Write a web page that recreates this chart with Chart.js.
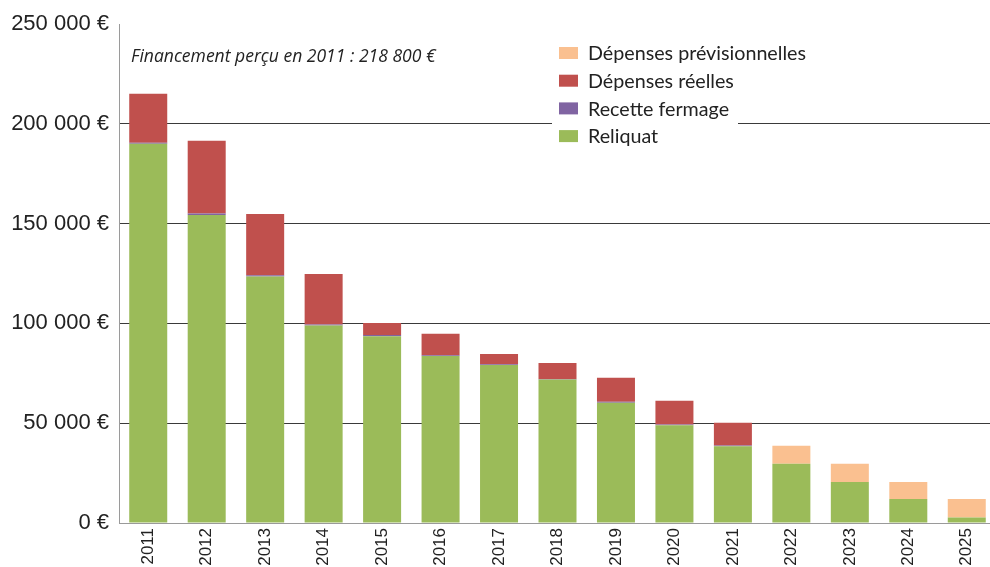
<!DOCTYPE html>
<html><head><meta charset="utf-8">
<script src="https://cdn.jsdelivr.net/npm/chart.js@4/dist/chart.umd.min.js"></script>
<style>
html,body{margin:0;padding:0;background:#fff;overflow:hidden;width:990px;height:567px}
#wrap{position:relative;width:996px;height:567px}
</style></head>
<body><div id="wrap"><canvas id="c" width="996" height="567"></canvas></div>
<script>
const years = ['2011','2012','2013','2014','2015','2016','2017','2018','2019','2020','2021','2022','2023','2024','2025'];
const reliquat = [190000,154300,123500,99000,93500,83700,79200,71900,60300,49000,38400,29700,20500,12000,2800];
const recetteFermage = [500,800,600,400,700,300,300,300,400,300,400,0,0,0,0];
const depensesReelles = [24500,36400,30700,25400,6000,10800,5200,8000,12100,12000,11400,0,0,0,0];
const depensesPrevisionnelles = [0,0,0,0,0,0,0,0,0,0,0,9000,9200,8500,9200];
const yTicks = [0,50000,100000,150000,200000,250000];
const legendLabels = ['Dépenses prévisionnelles','Dépenses réelles','Recette fermage','Reliquat'];
const annotationText = 'Financement perçu en 2011 : 218 800 €';

const COL = {green:'#9BBB59', purple:'#8064A2', red:'#C0504D', orange:'#FAC090'};
const legendColors = [COL.orange, COL.red, COL.purple, COL.green];

function fmt(v){ return String(v).replace(/\B(?=(\d{3})+(?!\d))/g,' ') + ' €'; }

function fitFont(ctx, style, family, text, target){
  ctx.font = style + ' 20px ' + family;
  const w = ctx.measureText(text).width;
  return style + ' ' + (20*target/w).toFixed(2) + 'px ' + family;
}

const overlay = {
  id:'overlay',
  afterDatasetsDraw(chart){
    const ctx = chart.ctx;
    ctx.save();
    ctx.fillStyle = '#fff';
    ctx.fillRect(552, 38, 186, 112);
    ctx.font = fitFont(ctx, 'normal', 'Lato', legendLabels[0], 218);
    ctx.textBaseline = 'middle';
    ctx.textAlign = 'left';
    legendLabels.forEach((t,i)=>{
      const cy = 53 + i*27.7;
      ctx.fillStyle = legendColors[i];
      ctx.fillRect(559, cy-6, 19, 12);
      ctx.fillStyle = '#222';
      ctx.fillText(t, 588, cy+1);
    });
    ctx.font = fitFont(ctx, 'italic', '"Open Sans"', annotationText, 305);
    ctx.fillStyle = '#222';
    ctx.fillText(annotationText, 131, 57);
    ctx.restore();
  }
};

new Chart(document.getElementById('c'), {
  type:'bar',
  data:{
    labels: years,
    datasets:[
      {label:'Reliquat', data:reliquat, backgroundColor:COL.green},
      {label:'Recette fermage', data:recetteFermage, backgroundColor:COL.purple},
      {label:'Dépenses réelles', data:depensesReelles, backgroundColor:COL.red},
      {label:'Dépenses prévisionnelles', data:depensesPrevisionnelles, backgroundColor:COL.orange}
    ]
  },
  options:{
    responsive:false,
    animation:false,
    devicePixelRatio:1,
    layout:{padding:{top:24,right:0,left:0,bottom:0}},
    datasets:{bar:{barPercentage:0.65, categoryPercentage:1.0, borderWidth:0}},
    plugins:{legend:{display:false}, tooltip:{enabled:false}},
    scales:{
      x:{
        stacked:true,
        grid:{display:false, drawTicks:false},
        border:{display:true, color:'#9a9a9a', width:1},
        ticks:{maxRotation:90, minRotation:90, autoSkip:false, padding:5,
               color:'#222', font:{family:'Liberation Sans', size:17}},
        afterFit(s){ s.height = 44; }
      },
      y:{
        stacked:true,
        min:0, max:250000,
        afterBuildTicks(s){ s.ticks = yTicks.map(v=>({value:v})); },
        grid:{
          drawTicks:false,
          color:(c)=> (c.tick && (c.tick.value===0 || c.tick.value===250000)) ? 'rgba(0,0,0,0)' : '#3a3a3a',
          lineWidth:1
        },
        border:{display:true, color:'#9a9a9a', width:1},
        ticks:{padding:10, color:'#222', font:{family:'Liberation Sans', size:22},
               callback:(v)=>fmt(v)},
        afterFit(s){ s.width = 119; }
      }
    }
  },
  plugins:[overlay]
});
</script>
</body></html>
